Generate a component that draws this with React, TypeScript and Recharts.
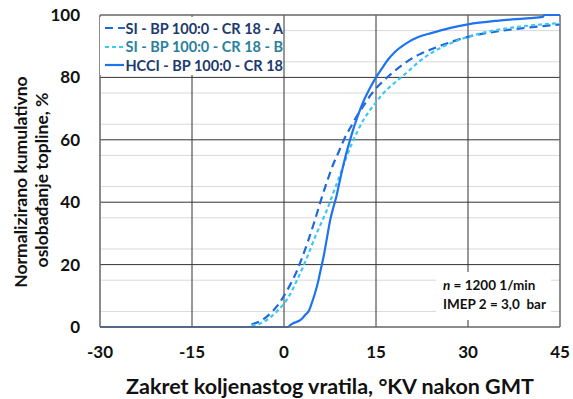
import React from "react";
import { LineChart, Line, XAxis, YAxis, CartesianGrid, ReferenceLine } from "recharts";

// crank angle (°KV after TDC) and normalized cumulative heat release (%)
const siAx = [-5.3, -4, -3, -2, -1, 0, 1, 2, 3, 4, 5, 6, 7, 8, 9, 10, 11, 12, 13, 14, 15, 16, 17, 18, 20, 22, 24, 27, 30, 35, 40, 45];
const siAy = [0.8, 1.8, 3, 4.8, 7, 10, 13.5, 17.5, 22.5, 28, 34, 40.5, 46.5, 52, 56.5, 61, 64.5, 68, 71, 74, 76.5, 78.5, 80.3, 82, 85, 87.3, 89, 91.2, 93, 94.8, 96, 97];

const siBx = [-5.3, -4, -3, -2, -1, 0, 1, 2, 3, 4, 5, 6, 7, 8, 9, 10, 11, 12, 13, 14, 15, 16, 17, 18, 20, 22, 24, 27, 30, 35, 40, 45];
const siBy = [0.5, 1, 2, 3.5, 5.3, 7.5, 10.5, 14.5, 18.8, 23.5, 28.5, 33, 37.5, 42.8, 48, 53.5, 58.5, 62.8, 66.5, 69.5, 72, 74.5, 76.5, 78.2, 81.5, 85, 87.8, 90.8, 93, 95.3, 96.6, 97.4];

const hcciX = [-30, 0.7, 1, 1.5, 2, 2.5, 3, 3.5, 4, 4.5, 5, 5.5, 6, 6.5, 7, 7.5, 8, 8.5, 9, 10, 11, 12, 13, 14, 15, 16, 17, 18, 20, 22, 24, 27, 30, 35, 40, 42.2, 42.4, 45];
const hcciY = [0, 0, 0.6, 1.2, 1.6, 2, 2.8, 4, 5, 7.5, 10.5, 14, 18.5, 23, 28.5, 34, 38, 41.5, 46, 54.5, 61.5, 67.5, 72.5, 76.5, 80, 83, 85.8, 88, 91, 93, 94.2, 95.8, 97, 98.2, 99, 99.4, 100, 100];

const xTicks = [-30, -15, 0, 15, 30, 45];
const yTicks = [0, 20, 40, 60, 80, 100];
const minorY = [5, 10, 15, 25, 30, 35, 45, 50, 55, 65, 70, 75, 85, 90, 95];
const majorX = [-15, 0, 15, 30];
const majorY = [20, 40, 60, 80];

const toPts = (xs: number[], ys: number[]) => xs.map((x, i) => ({ x, y: ys[i] }));

const FONT = "Lato, 'Open Sans', sans-serif";

const legendItems = [
  { label: "SI - BP 100:0 - CR 18 - A", color: "#1f68e0", dash: "8 5", text: "#1c3a6e" },
  { label: "SI - BP 100:0 - CR 18 - B", color: "#3cc8f5", dash: "4 3", text: "#2a7f9c" },
  { label: "HCCI - BP 100:0 - CR 18", color: "#1e74f0", dash: undefined, text: "#1c3a6e" },
];

export default function App() {
  return (
    <div style={{ position: "absolute", left: 0, top: 0, width: 573, height: 399, background: "#fff", fontFamily: FONT }}>
      <LineChart width={573} height={399} margin={{ top: 15, right: 13, bottom: 0, left: 0 }}>
        <CartesianGrid horizontalValues={minorY} vertical={false} stroke="#d9d9d9" strokeWidth={1} />
        {majorY.map((v) => (
          <ReferenceLine key={"y" + v} y={v} stroke="#333" strokeWidth={1} />
        ))}
        {majorX.map((v) => (
          <ReferenceLine key={"x" + v} x={v} stroke="#333" strokeWidth={1} />
        ))}
        <ReferenceLine y={100} stroke="#666" strokeWidth={1.5} />
        <ReferenceLine x={45} stroke="#666" strokeWidth={1.5} />
        <XAxis
          type="number"
          dataKey="x"
          domain={[-30, 45]}
          ticks={xTicks}
          allowDataOverflow
          height={72}
          tickSize={0}
          tickMargin={19}
          axisLine={{ stroke: "#666", strokeWidth: 1.5 }}
          tick={{ fill: "#111", fontSize: 17, fontWeight: 700, fontFamily: FONT }}
          label={{
            value: "Zakret koljenastog vratila, °KV nakon GMT",
            position: "insideBottom",
            offset: 5,
            fill: "#111",
            fontSize: 21.5,
            fontWeight: 700,
            fontFamily: FONT,
          }}
        />
        <YAxis
          type="number"
          domain={[0, 100]}
          ticks={yTicks}
          width={100}
          tickSize={0}
          tickMargin={20}
          axisLine={{ stroke: "#666", strokeWidth: 1.5 }}
          tick={{ fill: "#111", fontSize: 17, fontWeight: 700, fontFamily: FONT }}
          label={{
            content: () => (
              <g fontFamily={FONT} fontWeight={700} fontSize={17.5} fill="#111" textAnchor="middle">
                <text x={20} y={182} transform="rotate(-90 20 182)" dominantBaseline="central">
                  Normalizirano kumulativno
                </text>
                <text x={41} y={180} transform="rotate(-90 41 180)" dominantBaseline="central">
                  oslobađanje topline, %
                </text>
              </g>
            ),
          }}
        />
        <Line
          data={toPts(siAx, siAy)}
          dataKey="y"
          type="monotone"
          stroke="#1f68e0"
          strokeWidth={2.2}
          strokeDasharray="8 5"
          dot={false}
          isAnimationActive={false}
        />
        <Line
          data={toPts(siBx, siBy)}
          dataKey="y"
          type="monotone"
          stroke="#3cc8f5"
          strokeWidth={2.2}
          strokeDasharray="4 3"
          dot={false}
          isAnimationActive={false}
        />
        <Line
          data={toPts(hcciX, hcciY)}
          dataKey="y"
          type="monotone"
          stroke="#1e74f0"
          strokeWidth={2.2}
          dot={false}
          isAnimationActive={false}
        />
      </LineChart>

      <div
        style={{
          position: "absolute",
          left: 100,
          top: 17,
          width: 183,
          height: 58,
          background: "#fff",
          fontWeight: 700,
          fontSize: 14.5,
        }}
      >
        {legendItems.map((it, i) => (
          <div key={i} style={{ display: "flex", alignItems: "center", height: 18.5, marginTop: i === 0 ? 2 : 0 }}>
            <svg width={26} height={10} style={{ marginLeft: 4, marginRight: 1 }}>
              <line x1={1} y1={5} x2={25} y2={5} stroke={it.color} strokeWidth={2.2} strokeDasharray={it.dash} />
            </svg>
            <span style={{ color: it.text, whiteSpace: "nowrap" }}>{it.label}</span>
          </div>
        ))}
      </div>

      <div
        style={{
          position: "absolute",
          left: 436,
          top: 272,
          width: 115,
          height: 48,
          background: "#fff",
          fontWeight: 700,
          fontSize: 13.5,
          color: "#111",
          lineHeight: "19px",
          paddingLeft: 7,
          boxSizing: "border-box",
          paddingTop: 4,
        }}
      >
        <div>
          <i>n</i> = 1200 1/min
        </div>
        <div style={{ whiteSpace: "pre" }}>IMEP 2 = 3,0  bar</div>
      </div>
    </div>
  );
}
